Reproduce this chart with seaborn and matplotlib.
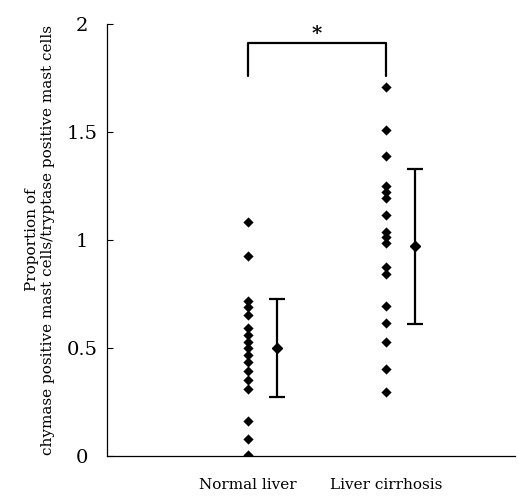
import numpy as np
import pandas as pd
import matplotlib
matplotlib.use("Agg")
import matplotlib.pyplot as plt
import seaborn as sns

# values
groups = ["Normal liver", "Liver cirrhosis"]
normal_vals = [1.085, 0.926, 0.717, 0.688, 0.653, 0.594, 0.560, 0.529, 0.498,
               0.468, 0.434, 0.394, 0.352, 0.309, 0.164, 0.077, 0.005]
cirrhosis_vals = [1.71, 1.51, 1.389, 1.25, 1.224, 1.193, 1.116, 1.038, 1.012,
                  0.988, 0.873, 0.843, 0.696, 0.614, 0.526, 0.401, 0.296]
means = [0.50, 0.97]
sds = [0.227, 0.36]

df = pd.DataFrame({
    "group": [groups[0]] * len(normal_vals) + [groups[1]] * len(cirrhosis_vals),
    "value": normal_vals + cirrhosis_vals,
})

sns.set_style("white")
plt.rcParams["font.family"] = ["DejaVu Serif", "Liberation Serif"]
plt.rcParams["text.color"] = "black"
plt.rcParams["axes.labelcolor"] = "black"
plt.rcParams["xtick.color"] = "black"
plt.rcParams["ytick.color"] = "black"

fig = plt.figure(figsize=(5.19, 5.0), dpi=100)
ax = fig.add_axes([0.206, 0.088, 0.786, 0.864])

sns.stripplot(data=df, x="group", y="value", order=groups, jitter=False,
              marker="D", size=5.2, color="black", ax=ax)

# mean +/- SD beside each group
for i, (m, s) in enumerate(zip(means, sds)):
    ax.errorbar(i + 0.21, m, yerr=s, fmt="D", color="black", markersize=5.2,
                ecolor="black", elinewidth=1.6, capsize=6, capthick=1.6)

# significance bracket
ax.plot([0, 0, 1, 1], [1.76, 1.912, 1.912, 1.76], color="black", lw=1.6)
ax.text(0.5, 1.955, "*", ha="center", va="center", fontsize=14, fontweight="bold")

ax.set_xlim(-1.02, 1.935)
ax.set_ylim(0, 2)
ax.set_yticks([0, 0.5, 1, 1.5, 2])
ax.set_yticklabels(["0", "0.5", "1", "1.5", "2"], fontsize=14, ha="center")
ax.tick_params(axis="y", direction="in", length=4, width=0.8, left=True, pad=18)
ax.tick_params(axis="x", length=0, labelsize=11, pad=16)
ax.set_xlabel("")
ax.set_ylabel("Proportion of\nchymase positive mast cells/tryptase positive mast cells",
              fontsize=11, labelpad=8)
sns.despine(ax=ax)
for sp in ["left", "bottom"]:
    ax.spines[sp].set_color("black")
    ax.spines[sp].set_linewidth(0.9)

fig.savefig("out.png", dpi=100)
